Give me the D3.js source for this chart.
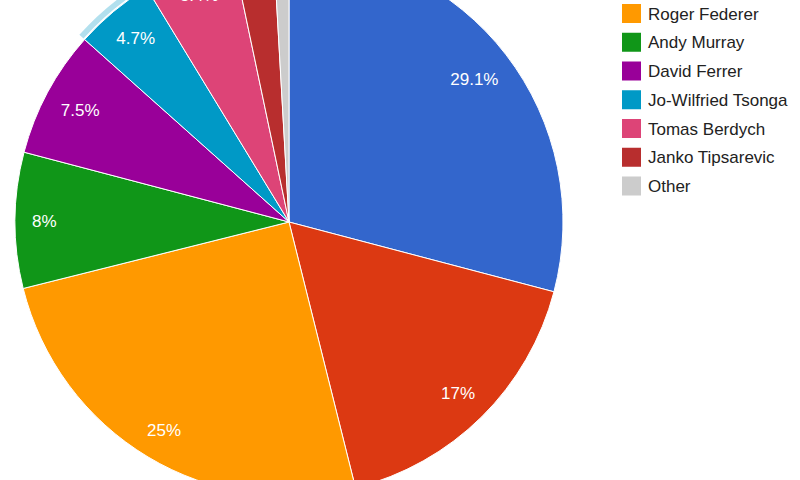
<!DOCTYPE html>
<html>
<head>
<meta charset="utf-8">
<script src="https://cdn.jsdelivr.net/npm/d3@7"></script>
<style>
  html, body { margin: 0; padding: 0; background: #fff; }
  svg { display: block; }
  text { font-family: Arial, "Liberation Sans", sans-serif; }
</style>
</head>
<body>
<svg id="chart" width="800" height="480"></svg>
<script>
const categories = ["Novak Djokovic", "Rafael Nadal", "Roger Federer", "Andy Murray", "David Ferrer",
                    "Jo-Wilfried Tsonga", "Tomas Berdych", "Janko Tipsarevic", "Other"];
const values = [29.1, 17, 25, 8, 7.5, 4.7, 5.4, 2.4, 0.9];
const colors = ["#3366cc", "#dc3912", "#ff9900", "#109618", "#990099", "#0099c6", "#dd4477", "#b82e2e", "#cccccc"];
const highlighted = "Jo-Wilfried Tsonga";

const W = 800, H = 480;
const cx = 289, cy = 222, r = 274;
const fontSize = 17;

const svg = d3.select("#chart");
const data = categories.map((c, i) => ({ name: c, value: values[i], color: colors[i] }));

const pie = d3.pie().sort(null).value(d => d.value);
const arcs = pie(data);
const arc = d3.arc().innerRadius(0).outerRadius(r);
const ring = d3.arc().innerRadius(r + 1.5).outerRadius(r + 7);

const g = svg.append("g").attr("transform", `translate(${cx},${cy})`);

// hover ring
g.selectAll("path.ring")
  .data(arcs.filter(a => a.data.name === highlighted))
  .join("path")
  .attr("class", "ring")
  .attr("d", ring)
  .attr("fill", d => d.data.color)
  .attr("fill-opacity", 0.3);

g.selectAll("path.slice")
  .data(arcs)
  .join("path")
  .attr("class", "slice")
  .attr("d", arc)
  .attr("fill", d => d.data.color)
  .attr("stroke", "#ffffff")
  .attr("stroke-width", 1);

// slice labels (google style: far corner of text box sits near the rim)
const R0 = r * 0.938;
const capH = fontSize * 0.716;
const labelArcs = arcs.filter(a => a.data.value >= 3);
g.selectAll("text.lbl")
  .data(labelArcs)
  .join("text")
  .attr("class", "lbl")
  .attr("font-size", fontSize)
  .attr("fill", "#ffffff")
  .attr("text-anchor", "middle")
  .text(d => d.data.value + "%")
  .each(function(d) {
    const w = this.getComputedTextLength();
    const a = (d.startAngle + d.endAngle) / 2;
    const ux = Math.sin(a), uy = -Math.cos(a);
    const c = [Math.sign(ux) * w / 2, Math.sign(uy) * capH / 2];
    const uc = ux * c[0] + uy * c[1];
    const cc = c[0] * c[0] + c[1] * c[1];
    const dist = -uc + Math.sqrt(uc * uc - cc + R0 * R0);
    d3.select(this)
      .attr("x", dist * ux)
      .attr("y", dist * uy + capH / 2);
  });

// legend
const legendX = 622, sw = 19, rowH = 28.75, firstRowY = 13.5 - 2 * rowH;
const legend = svg.append("g");
const rows = legend.selectAll("g.row")
  .data(data)
  .join("g")
  .attr("class", "row")
  .attr("transform", (d, i) => `translate(${legendX},${firstRowY + i * rowH})`);
rows.append("rect")
  .attr("x", 0).attr("y", -sw / 2)
  .attr("width", sw).attr("height", sw)
  .attr("fill", d => d.color);
rows.append("text")
  .attr("x", 26)
  .attr("y", capH / 2)
  .attr("font-size", fontSize)
  .attr("fill", "#222222")
  .text(d => d.name);
</script>
</body>
</html>
